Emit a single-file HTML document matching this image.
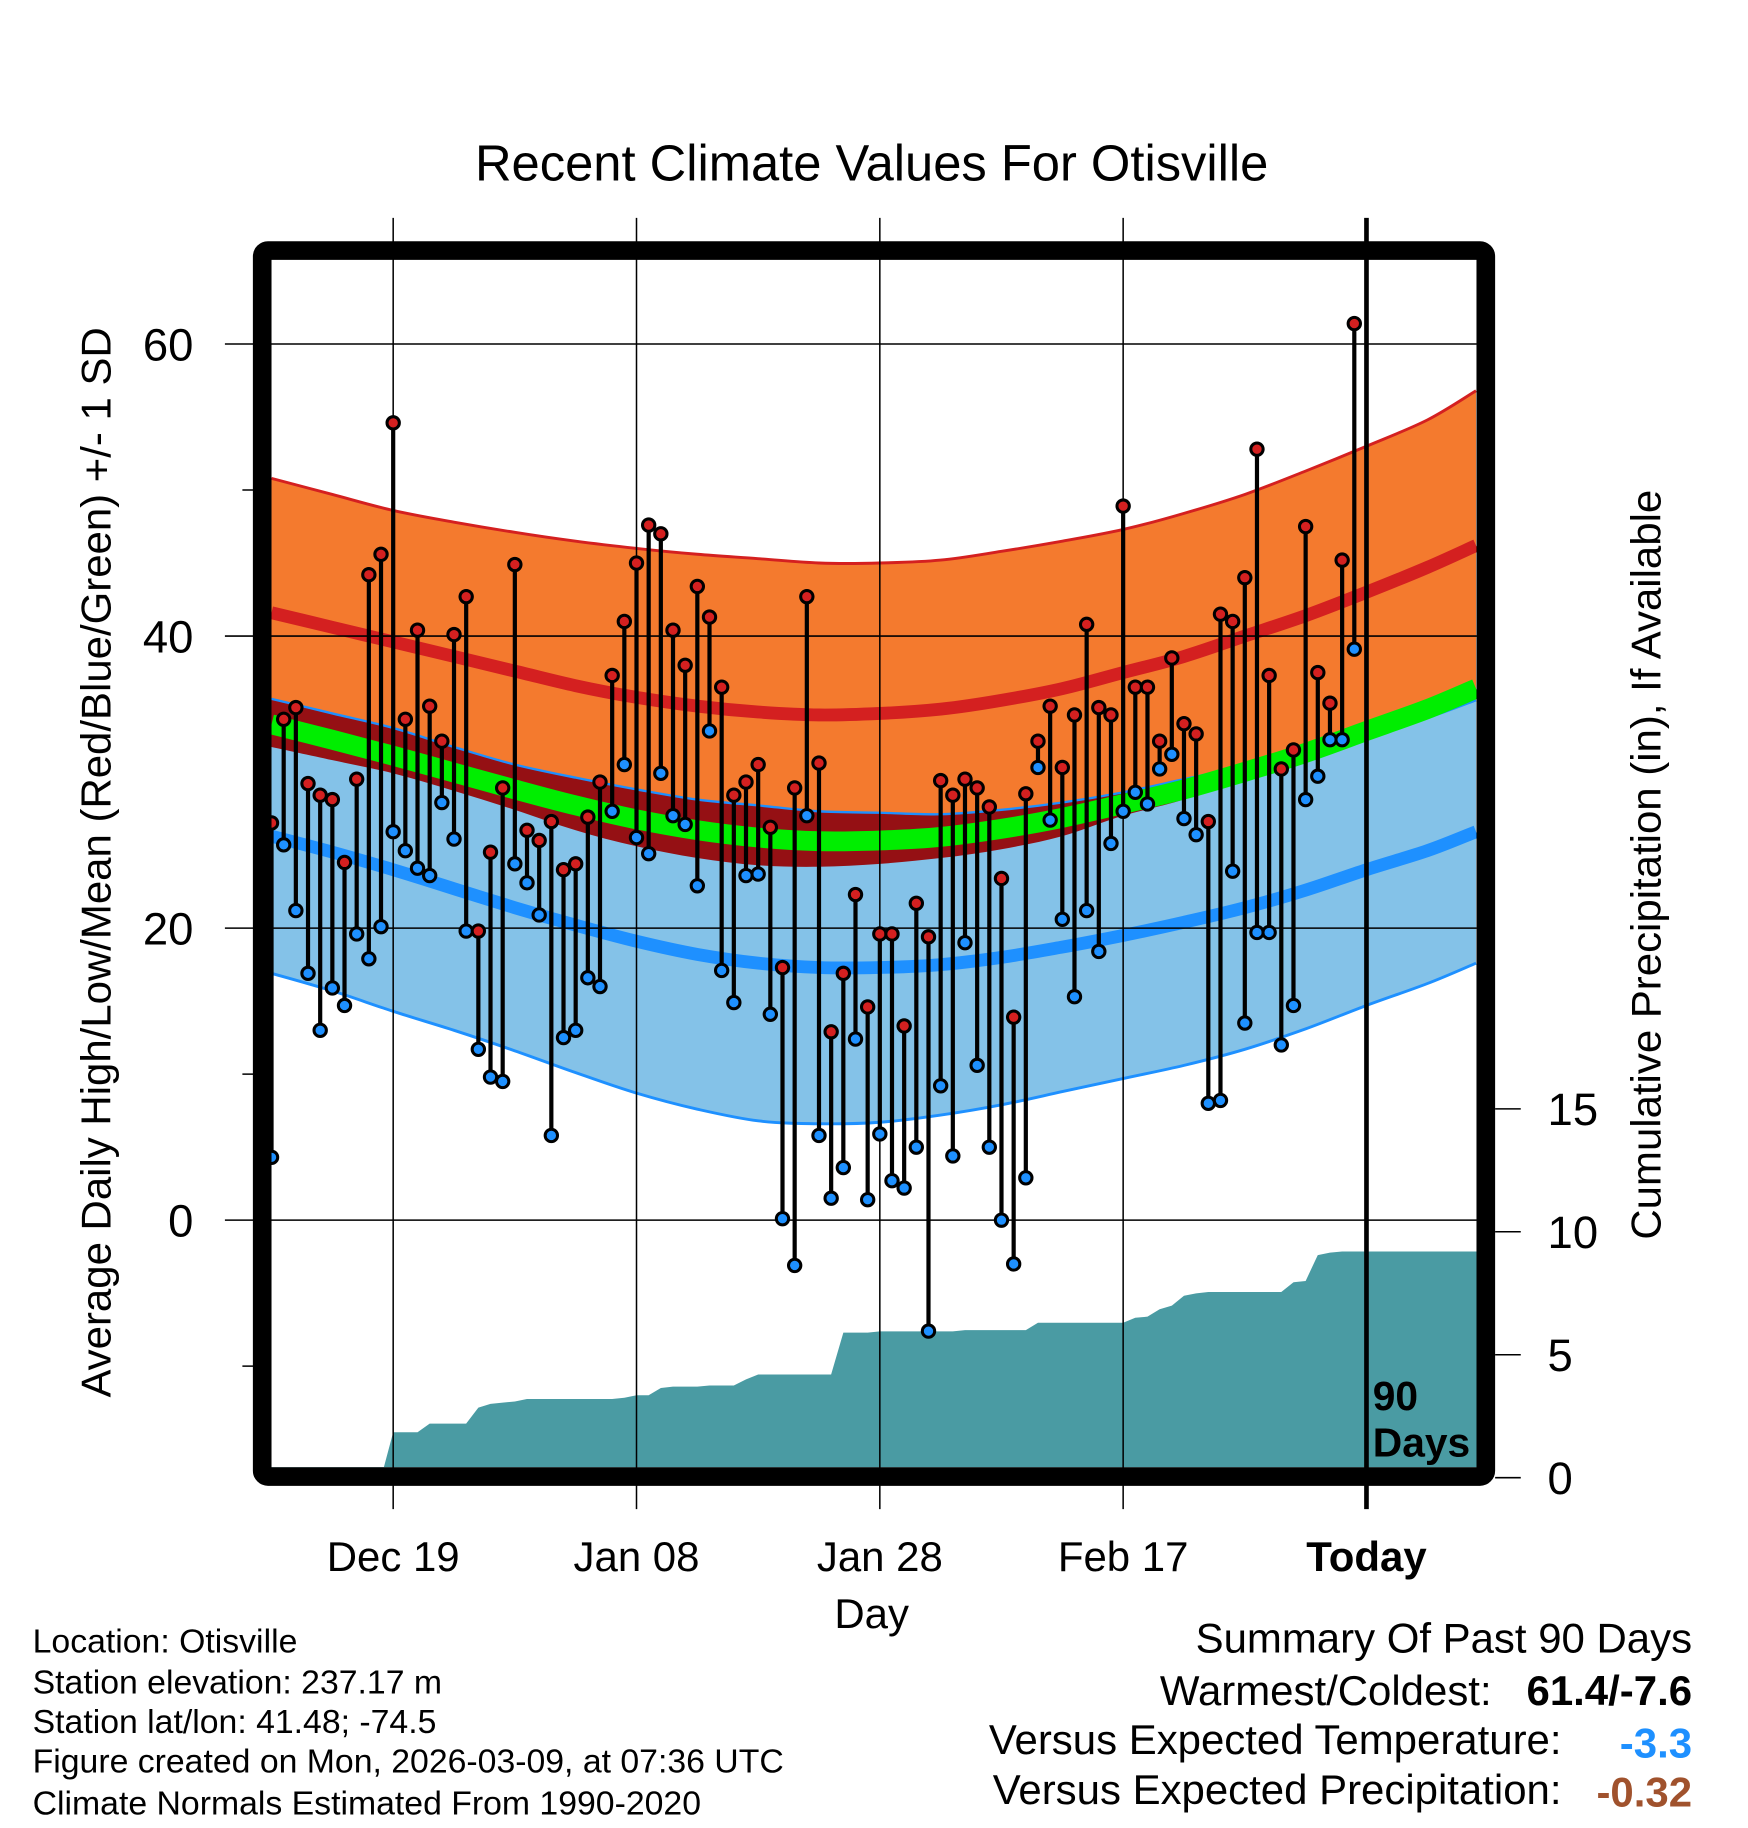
<!DOCTYPE html>
<html><head><meta charset="utf-8"><title>Recent Climate Values For Otisville</title>
<style>
html,body{margin:0;padding:0;background:#fff;}
svg{display:block;font-family:"Liberation Sans",Arial,sans-serif;}
</style></head>
<body>
<svg id="chart" width="1748" height="1828" viewBox="0 0 1500 1568.6" preserveAspectRatio="none" xmlns="http://www.w3.org/2000/svg">
<g id="bands"></g>
<g id="precip"></g>
<g id="grid"></g>
<g id="series"></g>
<rect x="225" y="215" width="1050" height="1052" rx="5" fill="none" stroke="#000" stroke-width="16" stroke-linejoin="round"/>
<g id="axes"></g>
<text x="748" y="155" font-size="43.5" text-anchor="middle">Recent Climate Values For Otisville</text>
<text transform="translate(95,740) rotate(-90)" font-size="36" text-anchor="middle">Average Daily High/Low/Mean (Red/Blue/Green) +/- 1 SD</text>
<text transform="translate(1425,742) rotate(-90)" font-size="36" text-anchor="middle">Cumulative Precipitation (in), If Available</text>
<text x="748" y="1397" font-size="36" text-anchor="middle">Day</text>
<text x="1178" y="1210" font-size="35" font-weight="bold">90</text>
<text x="1178" y="1250" font-size="35" font-weight="bold">Days</text>
<g font-size="29">
<text x="28" y="1418">Location: Otisville</text>
<text x="28" y="1453">Station elevation: 237.17 m</text>
<text x="28" y="1487">Station lat/lon: 41.48; -74.5</text>
<text x="28" y="1521">Figure created on Mon, 2026-03-09, at 07:36 UTC</text>
<text x="28" y="1557">Climate Normals Estimated From 1990-2020</text>
</g>
<g font-size="36" text-anchor="end">
<text x="1452" y="1418">Summary Of Past 90 Days</text>
<text x="1280" y="1463">Warmest/Coldest:</text>
<text x="1452" y="1463" font-weight="bold">61.4/-7.6</text>
<text x="1340" y="1505">Versus Expected Temperature:</text>
<text x="1452" y="1508" font-weight="bold" fill="#1e90ff">-3.3</text>
<text x="1340" y="1548">Versus Expected Precipitation:</text>
<text x="1452" y="1550" font-weight="bold" fill="#a0522d">-0.32</text>
</g>
</svg>
<script>
const highs=[27.2,34.3,35.1,29.9,29.1,28.8,24.5,30.2,44.2,45.6,54.6,34.3,40.4,35.2,32.8,40.1,42.7,19.8,25.2,29.6,44.9,26.7,26.0,27.3,24.0,24.4,27.6,30.0,37.3,41.0,45.0,47.6,47.0,40.4,38.0,43.4,41.3,36.5,29.1,30.0,31.2,26.9,17.3,29.6,42.7,31.3,12.9,16.9,22.3,14.6,19.6,19.6,13.3,21.7,19.4,30.1,29.1,30.2,29.6,28.3,23.4,13.9,29.2,32.8,35.2,31.0,34.6,40.8,35.1,34.6,48.9,36.5,36.5,32.8,38.5,34.0,33.3,27.3,41.5,41.0,44.0,52.8,37.3,30.9,32.2,47.5,37.5,35.4,45.2,61.4];
const lows=[4.3,25.7,21.2,16.9,13.0,15.9,14.7,19.6,17.9,20.1,26.6,25.3,24.1,23.6,28.6,26.1,19.8,11.7,9.8,9.5,24.4,23.1,20.9,5.8,12.5,13.0,16.6,16.0,28.0,31.2,26.2,25.1,30.6,27.7,27.1,22.9,33.5,17.1,14.9,23.6,23.7,14.1,0.1,-3.1,27.7,5.8,1.5,3.6,12.4,1.4,5.9,2.7,2.2,5.0,-7.6,9.2,4.4,19.0,10.6,5.0,0.0,-3.0,2.9,31.0,27.4,20.6,15.3,21.2,18.4,25.8,28.0,29.3,28.5,30.9,31.9,27.5,26.4,8.0,8.2,23.9,13.5,19.7,19.7,12.0,14.7,28.8,30.4,32.9,32.9,39.1];
const precipCum=[0,0,0,0,0,0,0,0,0,0,1.85,1.85,1.85,2.2,2.2,2.2,2.2,2.85,3.0,3.05,3.1,3.2,3.2,3.2,3.2,3.2,3.2,3.2,3.2,3.25,3.35,3.35,3.65,3.7,3.7,3.7,3.75,3.75,3.75,4.0,4.2,4.2,4.2,4.2,4.2,4.2,4.2,5.9,5.9,5.9,5.95,5.95,5.95,5.95,5.95,5.95,5.95,6.0,6.0,6.0,6.0,6.0,6.0,6.3,6.3,6.3,6.3,6.3,6.3,6.3,6.3,6.5,6.55,6.85,7.0,7.4,7.5,7.55,7.55,7.55,7.55,7.55,7.55,7.55,7.95,8.0,9.05,9.15,9.2,9.2];
const normDays=[0,5,10,15,20,25,30,35,40,45,50,55,60,65,70,75,80,85,90,95,99];
const highMean=[41.6,40.6,39.6,38.6,37.6,36.6,35.8,35.2,34.8,34.6,34.7,35.0,35.6,36.4,37.5,38.6,40.0,41.4,43.0,44.7,46.2];
const highUpper=[50.8,49.7,48.6,47.8,47.1,46.5,46.0,45.6,45.3,45.0,45.0,45.2,45.8,46.5,47.3,48.4,49.7,51.3,53.0,54.8,56.8];
const lowMean=[26.3,25.2,24.0,22.7,21.4,20.2,19.1,18.2,17.6,17.3,17.3,17.5,18.0,18.7,19.5,20.4,21.4,22.6,24.0,25.3,26.6];
const lowLower=[16.9,15.7,14.3,13.0,11.6,10.1,8.7,7.6,6.8,6.6,6.7,7.2,7.9,8.8,9.7,10.6,11.7,13.1,14.7,16.2,17.6];
const yTicks=[60,40,20,0];
const yMinor=[50,10,-10];
const pTicks=[0,5,10,15];
const xTickDays=[10,30,50,70,90];
const xTickLabels=["Dec 19","Jan 08","Jan 28","Feb 17","Today"];

const NS="http://www.w3.org/2000/svg";
const X=d=>233+10.44*d;
const Y=v=>1047-12.53*v;
const P=v=>1268-21.1*v;
const PL=233,PR=1267,PT=223,PB=1259;
function mk(parent,tag,attrs){const e=document.createElementNS(NS,tag);for(const k in attrs)e.setAttribute(k,attrs[k]);parent.appendChild(e);return e;}
// smooth path (Catmull-Rom) through normal curve points
function smooth(arr,reverse){
  let p=arr.map((v,i)=>[X(normDays[i]),Y(v)]);
  if(reverse)p=p.reverse();
  let d='';
  for(let i=0;i<p.length-1;i++){
    const p0=p[Math.max(i-1,0)],p1=p[i],p2=p[i+1],p3=p[Math.min(i+2,p.length-1)];
    const c1=[p1[0]+(p2[0]-p0[0])/6,p1[1]+(p2[1]-p0[1])/6];
    const c2=[p2[0]-(p3[0]-p1[0])/6,p2[1]-(p3[1]-p1[1])/6];
    d+=` C${c1[0].toFixed(1)},${c1[1].toFixed(1)} ${c2[0].toFixed(1)},${c2[1].toFixed(1)} ${p2[0].toFixed(1)},${p2[1].toFixed(1)}`;
  }
  return {start:p[0],d};
}
function linePath(arr){const s=smooth(arr,false);return `M${s.start[0].toFixed(1)},${s.start[1].toFixed(1)}`+s.d;}
function areaPath(top,bot){const a=smooth(top,false),b=smooth(bot,true);return `M${a.start[0].toFixed(1)},${a.start[1].toFixed(1)}`+a.d+` L${b.start[0].toFixed(1)},${b.start[1].toFixed(1)}`+b.d+' Z';}
const bands=document.getElementById('bands');
const highLower=highMean.map((m,i)=>2*m-highUpper[i]);
const lowUpper=lowMean.map((m,i)=>2*m-lowLower[i]);
const mean=highMean.map((m,i)=>(m+lowMean[i])/2);
let e;
e=mk(bands,'path',{d:areaPath(highUpper,highLower),fill:'#f47a2e'});


e=mk(bands,'path',{d:areaPath(lowUpper,lowLower),fill:'#84c2e8'});


const ovBot=highLower.map((v,i)=>Math.min(v,lowUpper[i]));
e=mk(bands,'path',{d:areaPath(lowUpper,ovBot),fill:'#951014'});


e=mk(bands,'path',{d:linePath(highUpper),fill:'none',stroke:'#d42020',"stroke-width":2.5});


e=mk(bands,'path',{d:linePath(lowLower),fill:'none',stroke:'#1e90ff',"stroke-width":2.5});


e=mk(bands,'path',{d:linePath(lowUpper),fill:'none',stroke:'#1e90ff',"stroke-width":2});


e=mk(bands,'path',{d:linePath(mean),fill:'none',stroke:'#00ee00',"stroke-width":17});


e=mk(bands,'path',{d:linePath(highMean),fill:'none',stroke:'#d42020',"stroke-width":11});


e=mk(bands,'path',{d:linePath(lowMean),fill:'none',stroke:'#1e90ff',"stroke-width":11});



// precip
const pg=document.getElementById('precip');
let pts=`${X(0)},${PB} `+precipCum.map((v,i)=>`${X(i).toFixed(1)},${P(v).toFixed(1)}`).join(' ')+` ${PR},${P(precipCum[precipCum.length-1]).toFixed(1)} ${PR},${PB}`;
e=mk(pg,'polygon',{points:pts,fill:'#4a9ba3'});



// grid
const g=document.getElementById('grid');
yTicks.forEach(v=>{
  e=mk(g,'line',{x1:193,x2:PR,y1:Y(v),y2:Y(v),stroke:'#000',"stroke-width":1.3});
  
  
});
yMinor.forEach(v=>{
  e=mk(g,'line',{x1:208,x2:225,y1:Y(v),y2:Y(v),stroke:'#000',"stroke-width":1.3});
  
  
});
xTickDays.forEach((d,i)=>{
  const today=xTickLabels[i]==="Today";
  e=mk(g,'line',{x1:X(d),x2:X(d),y1:187,y2:1295,stroke:'#000',"stroke-width":today?4:1.3});
  
  
});

// series
const s=document.getElementById('series');
highs.forEach((h,i)=>{
  e=mk(s,'line',{x1:X(i),x2:X(i),y1:Y(h),y2:Y(lows[i]),stroke:'#000',"stroke-width":3.6});
  
  
});
highs.forEach((h,i)=>{
  e=mk(s,'circle',{cx:X(i),cy:Y(lows[i]),r:5.3,fill:'#1e90ff',stroke:'#000',"stroke-width":2.6});
  
  
  e=mk(s,'circle',{cx:X(i),cy:Y(h),r:5.3,fill:'#d42020',stroke:'#000',"stroke-width":2.6});
  
  
});

// axes labels
const a=document.getElementById('axes');
yTicks.forEach(v=>{
  e=mk(a,'text',{x:166,y:Y(v)+14,"font-size":39,"text-anchor":"end"});
  e.textContent=v;
  
  
});
pTicks.forEach(v=>{
  e=mk(a,'line',{x1:1283,x2:1305,y1:P(v),y2:P(v),stroke:'#000',"stroke-width":1.3});
  
  
  e=mk(a,'text',{x:1328,y:P(v)+14,"font-size":39});
  e.textContent=v;
  
  
});
xTickDays.forEach((d,i)=>{
  e=mk(a,'text',{x:X(d),y:1348,"font-size":36,"text-anchor":"middle","font-weight":xTickLabels[i]==="Today"?"bold":"normal"});
  e.textContent=xTickLabels[i];
  
  
});
</script>
</body></html>
